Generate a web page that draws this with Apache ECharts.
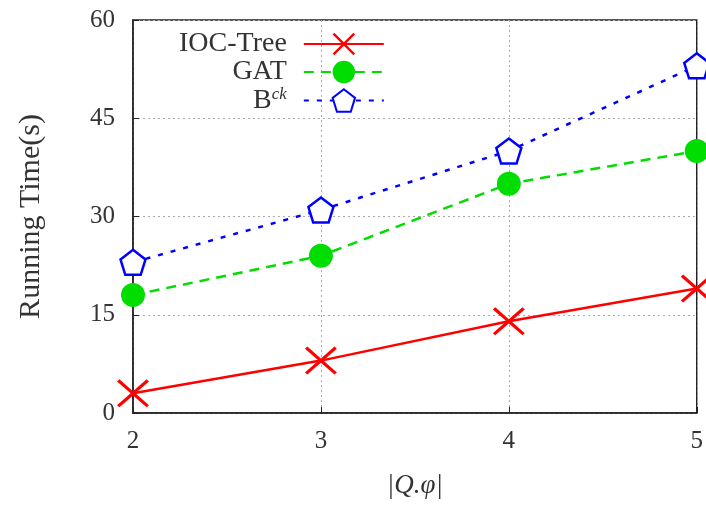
<!DOCTYPE html>
<html><head><meta charset="utf-8">
<script src="https://cdn.jsdelivr.net/npm/echarts@6/dist/echarts.min.js"></script>
<style>html,body{margin:0;padding:0;background:#fff}#c{width:706px;height:506px}</style>
</head><body><div id="c"></div>
<script>
const xValues = [2, 3, 4, 5];
const iocTree = [3, 8, 14, 19];
const gat = [18, 24, 35, 40];
const bck = [23, 31, 40, 53];
const yTicks = [0, 15, 30, 45, 60];

const crossPath = 'path://M1.5,0 L10,8.5 L18.5,0 L20,1.5 L11.5,10 L20,18.5 L18.5,20 L10,11.5 L1.5,20 L0,18.5 L8.5,10 L0,1.5 Z';
const pentPath = 'path://M0,-10 L9.51,-3.09 L5.88,8.09 L-5.88,8.09 L-9.51,-3.09 Z';
const font = 'Liberation Serif';
const pair = arr => xValues.map((x, i) => [x, arr[i]]);

const chart = echarts.init(document.getElementById('c'));
chart.setOption({
  animation: false,
  backgroundColor: '#fff',
  grid: {left: 133, right: 8, top: 20, bottom: 93, show: true, borderColor: '#222', borderWidth: 1.5, backgroundColor: 'transparent'},
  legend: {
    left: 174, top: 25, orient: 'vertical', align: 'right', itemGap: 0,
    itemWidth: 80, itemHeight: 28,
    textStyle: {fontFamily: font, fontSize: 28, color: '#333', padding: [0, 12, 0, 0],
      rich: {sup: {fontFamily: font, fontSize: 17, fontStyle: 'italic', color: '#333', verticalAlign: 'top', padding: [0,0,12,0]}}},
    formatter: n => n === 'Bck' ? 'B{sup|ck}' : n,
    data: ['IOC-Tree', 'GAT', 'Bck']
  },
  xAxis: {
    type: 'value', min: 2, max: 5, interval: 1,
    name: '|Q.φ|', nameLocation: 'middle', nameGap: 59,
    nameTextStyle: {fontFamily: font, fontSize: 27, fontStyle: 'italic', color: '#333'},
    axisLine: {show: true, lineStyle: {color: '#222', width: 1.5}},
    axisTick: {show: true, inside: true, length: 6, lineStyle: {color: '#222'}},
    axisLabel: {fontFamily: font, fontSize: 25, color: '#333', margin: 16},
    splitLine: {show: true, lineStyle: {color: '#aaa', type: [2, 3], width: 1}}
  },
  yAxis: {
    type: 'value', min: 0, max: 60, interval: 15,
    name: 'Running Time(s)', nameLocation: 'middle', nameGap: 87,
    nameTextStyle: {fontFamily: font, fontSize: 30, color: '#333'},
    axisLine: {show: true, lineStyle: {color: '#222', width: 1.5}},
    axisTick: {show: true, inside: true, length: 6, lineStyle: {color: '#222'}},
    axisLabel: {fontFamily: font, fontSize: 25, color: '#333', margin: 18,
      formatter: v => yTicks.includes(v) ? String(v) : ''},
    splitLine: {show: true, lineStyle: {color: '#aaa', type: [2, 3], width: 1}}
  },
  series: [
    {name: 'IOC-Tree', type: 'line', data: pair(iocTree), symbol: crossPath, symbolSize: [32, 28],
     lineStyle: {color: '#ff0000', width: 2.5}, itemStyle: {color: '#ff0000'}, z: 3},
    {name: 'GAT', type: 'line', data: pair(gat), symbol: 'circle', symbolSize: 24,
     lineStyle: {color: '#00dd00', width: 2.5, type: [10, 7]}, itemStyle: {color: '#00dd00'}, z: 2},
    {name: 'Bck', type: 'line', data: pair(bck), symbol: pentPath, symbolSize: 25,
     lineStyle: {color: '#0000ff', width: 2.5, type: [5, 8]},
     itemStyle: {color: '#fff', borderColor: '#0000ff', borderWidth: 2.5}, z: 1}
  ]
});
</script></body></html>
